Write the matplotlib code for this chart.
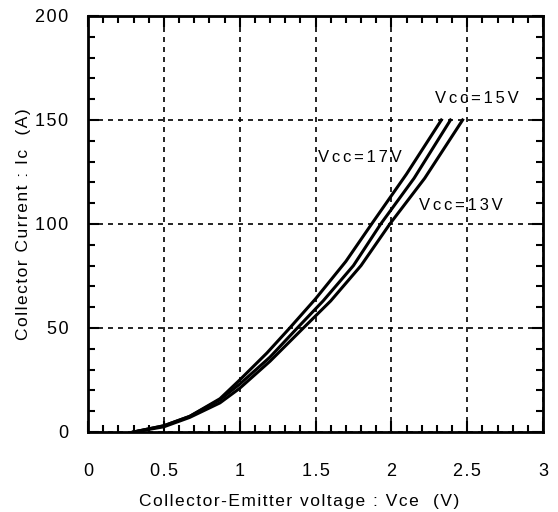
import numpy as np
import matplotlib.pyplot as plt

plt.rcParams['font.family'] = ['Liberation Sans', 'DejaVu Sans']

# Vce (V) and Ic (A), one pair per Vcc
vce_17 = [0.3, 0.5, 0.67, 0.87, 1.0, 1.18, 1.33, 1.5, 1.7, 1.87, 2.1, 2.33]
ic_17 = [0, 3, 7.5, 16, 25, 38, 50, 64, 82, 100, 124, 150]
vce_15 = [0.3, 0.5, 0.67, 0.87, 1.0, 1.2, 1.38, 1.55, 1.75, 1.93, 2.15, 2.39]
ic_15 = [0, 3, 7.5, 15.5, 23, 36, 50, 63, 80, 100, 122, 150]
vce_13 = [0.3, 0.5, 0.67, 0.87, 1.0, 1.2, 1.42, 1.6, 1.8, 1.99, 2.22, 2.47]
ic_13 = [0, 2.5, 7, 14, 21, 34, 50, 63, 80, 100, 122, 150]

labels = ['Vcc=17V', 'Vcc=15V', 'Vcc=13V']
label_pos = [(1.516, 132), (2.29, 160.5), (2.18, 109)]
xtick_labels = ['0', '0.5', '1', '1.5', '2', '2.5', '3']
ytick_labels = ['0', '50', '100', '150', '200']


def spaced(s, gap='\u200a'):
    # the original text is set with loose letter spacing
    return gap.join(s)


fig = plt.figure(figsize=(5.58, 5.12), dpi=100)
ax = fig.add_axes([88/558, 80/512, 455/558, 416/512])

for v, i in [(vce_17, ic_17), (vce_15, ic_15), (vce_13, ic_13)]:
    ax.plot(v, i, color='black', lw=2.2)

for lab, (x, y) in zip(labels, label_pos):
    ax.text(x, y, spaced(lab, '\u2006'), fontsize=12, va='center', ha='left')

ax.set_xlim(0, 3)
ax.set_ylim(0, 200)
ax.set_xticks(np.arange(0, 3.01, 0.5))
ax.set_xticklabels([spaced(t) for t in xtick_labels])
ax.set_yticks([0, 50, 100, 150, 200])
ax.set_yticklabels([spaced(t) for t in ytick_labels])
ax.set_xticks(np.arange(0, 3.01, 0.1), minor=True)
ax.set_yticks(np.arange(0, 201, 10), minor=True)

ax.grid(True, which='major', color='black', ls=(0, (3, 3)), lw=1.2)
ax.tick_params(which='both', direction='in', top=True, right=True, width=1.5, labelsize=13)
ax.tick_params(which='major', length=8)
ax.tick_params(which='minor', length=5)
ax.tick_params(axis='x', pad=22)
ax.tick_params(axis='y', pad=14)
for s in ax.spines.values():
    s.set_linewidth(2)

ax.set_xlabel(spaced('Collector-Emitter voltage : Vce  (V)'), fontsize=12.5)
ax.xaxis.set_label_coords(0.465, -0.15)
ax.set_ylabel(spaced('Collector Current : Ic  (A)'), fontsize=12.5)
ax.yaxis.set_label_coords(-0.125, 0.5)

fig.savefig('out.png', dpi=100)
